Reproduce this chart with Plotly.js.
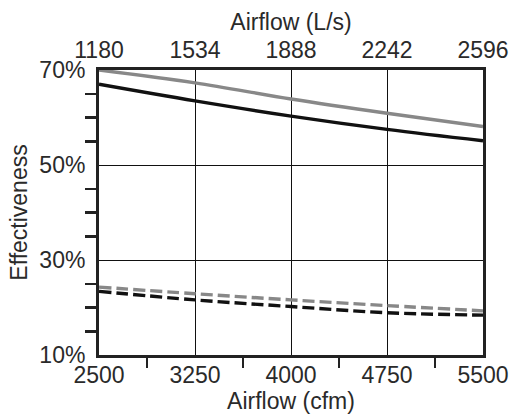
<!DOCTYPE html>
<html>
<head>
<meta charset="utf-8">
<script src="https://cdn.plot.ly/plotly-3.0.1.min.js"></script>
<style>html,body{margin:0;padding:0;background:#fff;}#chart{width:515px;height:418px;}</style>
</head>
<body>
<div id="chart"></div>
<script>
var airflowCfm = [2500, 3250, 4000, 4750, 5500];
var graySolid = [70.0, 67.3, 63.9, 60.9, 58.1];
var blackSolid = [67.0, 63.5, 60.3, 57.5, 55.1];
var grayDashed = [24.3, 22.9, 21.6, 20.4, 19.3];
var blackDashed = [23.4, 21.6, 20.2, 18.9, 18.4];
var cfmToLs = 0.472;
var airflowLsTicks = [1180, 1534, 1888, 2242, 2596];
var effTicks = [10, 30, 50, 70];
var effMinorTicks = [15, 20, 25, 35, 40, 45, 55, 60, 65];
var cfmMinorTicks = [2875, 3625, 4375, 5125];

var FONT = 'Liberation Sans, Arial, Helvetica, sans-serif';
var traces = [
  {x: airflowCfm, y: graySolid, mode: 'lines', line: {color: '#888888', width: 3.4, shape: 'spline'}},
  {x: airflowCfm, y: blackSolid, mode: 'lines', line: {color: '#111111', width: 3.4, shape: 'spline'}},
  {x: airflowCfm, y: grayDashed, mode: 'lines', line: {color: '#888888', width: 3.4, dash: '12px,5px', shape: 'spline'}},
  {x: airflowCfm, y: blackDashed, mode: 'lines', line: {color: '#111111', width: 3.4, dash: '12px,5px', shape: 'spline'}},
  // same gray curve in L/s units, invisible, so the top axis is drawn
  {x: airflowCfm.map(function(v){return v * cfmToLs;}), y: graySolid, xaxis: 'x2', mode: 'lines',
   line: {color: 'rgba(0,0,0,0)', width: 0}, hoverinfo: 'skip'}
];
var layout = {
  width: 515, height: 418,
  margin: {l: 99, r: 32, t: 70, b: 63},
  showlegend: false,
  paper_bgcolor: '#fff', plot_bgcolor: '#fff',
  font: {family: FONT, size: 23, color: '#2a2a2a'},
  xaxis: {
    range: [2500, 5500], tickmode: 'array', tickvals: airflowCfm,
    ticks: 'outside', ticklen: 0, ticklabelstandoff: -3,
    showgrid: true, gridcolor: '#111', gridwidth: 1,
    showline: true, mirror: true, linecolor: '#222', linewidth: 3,
    zeroline: false,
    minor: {tickmode: 'array', tickvals: cfmMinorTicks, ticks: 'outside', ticklen: 10, tickwidth: 2.5, tickcolor: '#222', showgrid: false},
    title: {text: 'Airflow (cfm)', font: {size: 23}, standoff: 3}
  },
  xaxis2: {
    overlaying: 'x', side: 'top', anchor: 'y',
    range: [1180, 2596], tickmode: 'array', tickvals: airflowLsTicks,
    ticktext: airflowLsTicks.map(String),
    ticks: '', ticklabelstandoff: 6,
    showgrid: false, showline: false, zeroline: false,
    title: {text: 'Airflow (L/s)', font: {size: 23}, standoff: 0}
  },
  yaxis: {
    range: [10, 70], tickmode: 'array', tickvals: effTicks,
    ticktext: effTicks.map(function(v){return v + '%';}),
    ticks: 'outside', ticklen: 0, ticklabelstandoff: 6,
    showgrid: true, gridcolor: '#111', gridwidth: 1,
    showline: true, mirror: true, linecolor: '#222', linewidth: 3,
    zeroline: false,
    minor: {tickmode: 'array', tickvals: effMinorTicks, ticks: 'outside', ticklen: 11, tickwidth: 2.5, tickcolor: '#222', showgrid: false},
    title: {text: 'Effectiveness', font: {size: 23}, standoff: 6}
  }
};
Plotly.newPlot('chart', traces, layout, {displayModeBar: false, staticPlot: true});
</script>
</body>
</html>
